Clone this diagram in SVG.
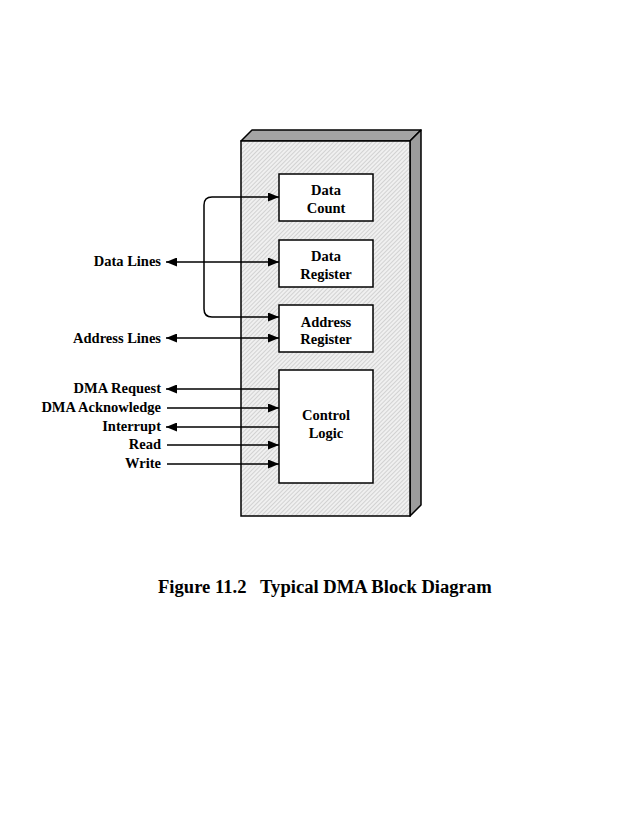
<svg xmlns="http://www.w3.org/2000/svg" width="637" height="824" viewBox="0 0 637 824">
<style>
text{font-family:"Liberation Serif","Times New Roman",serif;font-weight:bold;fill:#000}
.lbl{font-size:14.5px;text-anchor:end}
.box{font-size:14.5px;text-anchor:middle}
.reg{fill:#fff;stroke:#000;stroke-width:1.5}
.ln{fill:none;stroke:#000;stroke-width:1.5}
</style>
<defs>
<pattern id="hatch" width="3" height="3" patternUnits="userSpaceOnUse" patternTransform="rotate(45)">
<rect width="3" height="3" fill="#f0f0f0"/>
<line x1="0" y1="0" x2="0" y2="3" stroke="#b4b4b4" stroke-width="1"/>
</pattern>
<marker id="ah" viewBox="0 0 11 9" refX="11" refY="4.5" markerWidth="11" markerHeight="9" markerUnits="userSpaceOnUse" orient="auto-start-reverse">
<path d="M0,0 L11,4.5 L0,9 Z" fill="#000"/>
</marker>
</defs>
<rect width="637" height="824" fill="#fff"/>
<g id="dma-body">
<polygon points="241,141 252,130 421,130 410,141" fill="#a4a4a4" stroke="#000" stroke-width="1.5" stroke-linejoin="round"/>
<polygon points="410,141 421,130 421,505 410,516" fill="#9c9c9c" stroke="#000" stroke-width="1.5" stroke-linejoin="round"/>
<rect x="241" y="141" width="169" height="375" fill="url(#hatch)" stroke="#000" stroke-width="1.5"/>
</g>
<g id="data-count">
<rect class="reg" x="279" y="174" width="94" height="47"/>
<text class="box" x="326" y="195">Data</text>
<text class="box" x="326" y="213">Count</text>
</g>
<g id="data-register">
<rect class="reg" x="279" y="240" width="94" height="47"/>
<text class="box" x="326" y="261">Data</text>
<text class="box" x="326" y="279">Register</text>
</g>
<g id="address-register">
<rect class="reg" x="279" y="305" width="94" height="47"/>
<text class="box" x="326" y="327">Address</text>
<text class="box" x="326" y="344">Register</text>
</g>
<g id="control-logic">
<rect class="reg" x="279" y="370" width="94" height="113"/>
<text class="box" x="326" y="420">Control</text>
<text class="box" x="326" y="438">Logic</text>
</g>
<g id="labels">
<text class="lbl" x="161" y="266">Data Lines</text>
<text class="lbl" x="161" y="343">Address Lines</text>
<text class="lbl" x="161" y="393">DMA Request</text>
<text class="lbl" x="161" y="412">DMA Acknowledge</text>
<text class="lbl" x="161" y="431">Interrupt</text>
<text class="lbl" x="161" y="449">Read</text>
<text class="lbl" x="161" y="468">Write</text>
</g>
<g id="connectors">
<path class="ln" d="M279,197 H212 Q204,197 204,205 V309 Q204,317 212,317 H279" marker-start="url(#ah)" marker-end="url(#ah)"/>
<line class="ln" x1="166" y1="262" x2="279" y2="262" marker-start="url(#ah)" marker-end="url(#ah)"/>
<line class="ln" x1="166" y1="338" x2="279" y2="338" marker-start="url(#ah)" marker-end="url(#ah)"/>
<line class="ln" x1="279" y1="389" x2="166" y2="389" marker-end="url(#ah)"/>
<line class="ln" x1="167" y1="408" x2="279" y2="408" marker-end="url(#ah)"/>
<line class="ln" x1="279" y1="427" x2="166" y2="427" marker-end="url(#ah)"/>
<line class="ln" x1="167" y1="445" x2="279" y2="445" marker-end="url(#ah)"/>
<line class="ln" x1="167" y1="464" x2="279" y2="464" marker-end="url(#ah)"/>
</g>
<text x="158" y="593" font-size="18.6" xml:space="preserve">Figure 11.2   Typical DMA Block Diagram</text>
</svg>
